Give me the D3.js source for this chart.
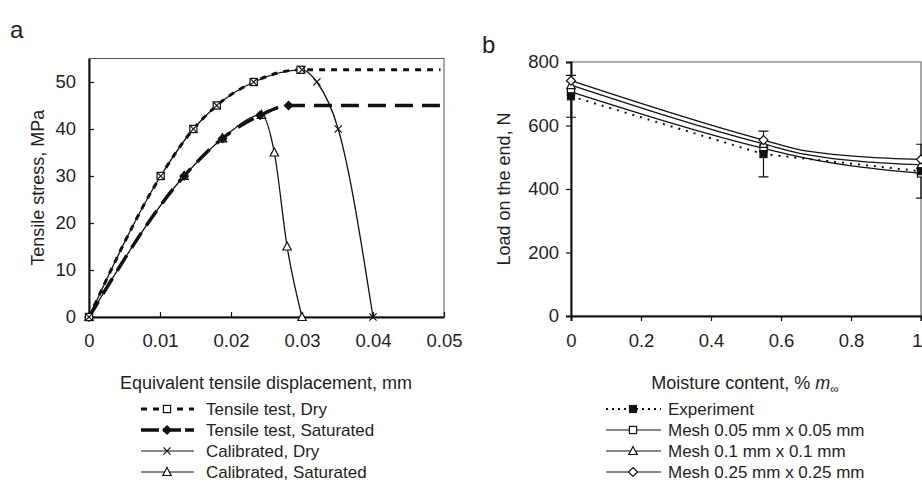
<!DOCTYPE html>
<html><head><meta charset="utf-8">
<script src="https://cdn.jsdelivr.net/npm/d3@7"></script>
<style>body{margin:0;background:#fff} svg{font-family:"Liberation Sans",Arial,sans-serif}</style>
</head><body><svg id="c" width="922" height="504"></svg>
<script>
// ---------- data: panel a ----------
const testDryX = [0, 0.0101, 0.0147, 0.0180, 0.0232, 0.0298];
const testDryY = [0, 30, 40, 45, 50, 52.6];
const testSatX = [0, 0.0134, 0.0188, 0.0241, 0.0281];
const testSatY = [0, 30, 38, 42.9, 45];
const plateauEndX = 0.0503;
const calDryX = [0, 0.0101, 0.0147, 0.0180, 0.0232, 0.0300, 0.0321, 0.0351, 0.0400];
const calDryY = [0, 30, 40, 45, 50, 52.6, 50, 40, 0];
const calSatX = [0, 0.0134, 0.0188, 0.0243, 0.0261, 0.0279, 0.0300];
const calSatY = [0, 30, 38, 43, 35, 15, 0];
const xTicksA = [0, 0.01, 0.02, 0.03, 0.04, 0.05];
const yTicksA = [0, 10, 20, 30, 40, 50];
const legendA = ["Tensile test, Dry", "Tensile test, Saturated", "Calibrated, Dry", "Calibrated, Saturated"];

// ---------- data: panel b ----------
const moisture = [0, 0.55, 1];
const expLoad = [692, 510, 456];
const expErr = [66, 72, 85];
const meshX = [0, 0.55, 0.67, 1];
const mesh005 = [706, 528, 497, 449];
const mesh01 = [727, 542, 509, 476];
const mesh025 = [741, 554, 520, 493];
const xTicksB = [0, 0.2, 0.4, 0.6, 0.8, 1];
const yTicksB = [0, 200, 400, 600, 800];
const legendB = ["Experiment", "Mesh 0.05 mm x 0.05 mm", "Mesh 0.1 mm x 0.1 mm", "Mesh 0.25 mm x 0.25 mm"];

const svg = d3.select("#c");
const TXT = "#231f20";
const FT = 18.5, FA = 18, FL = 17;
const zip = (xs, ys) => xs.map((x, i) => [x, ys[i]]);

function marker(g, type, x, y) {
  const s = 3.6;
  if (type === "square") {
    g.append("rect").attr("x", x - s).attr("y", y - s).attr("width", 2 * s).attr("height", 2 * s)
      .attr("fill", "#fff").attr("stroke", "#111").attr("stroke-width", 1.2);
  } else if (type === "fsquare") {
    g.append("rect").attr("x", x - s).attr("y", y - s).attr("width", 2 * s).attr("height", 2 * s)
      .attr("fill", "#111").attr("stroke", "#111").attr("stroke-width", 1);
  } else if (type === "cross") {
    g.append("path").attr("d", `M${x - s},${y - s}L${x + s},${y + s}M${x - s},${y + s}L${x + s},${y - s}`)
      .attr("stroke", "#111").attr("stroke-width", 1.2);
  } else if (type === "fdiamond") {
    g.append("path").attr("d", `M${x},${y - 5}L${x + 5},${y}L${x},${y + 5}L${x - 5},${y}Z`).attr("fill", "#111");
  } else if (type === "diamond") {
    g.append("path").attr("d", `M${x},${y - 4.5}L${x + 4.5},${y}L${x},${y + 4.5}L${x - 4.5},${y}Z`)
      .attr("fill", "#fff").attr("stroke", "#111").attr("stroke-width", 1.2);
  } else if (type === "triangle") {
    g.append("path").attr("d", `M${x},${y - 4.5}L${x + 4.2},${y + 3.5}L${x - 4.2},${y + 3.5}Z`)
      .attr("fill", "#fff").attr("stroke", "#111").attr("stroke-width", 1.2);
  }
}
function styleAxis(a) {
  a.select(".domain").attr("stroke", "#111").attr("stroke-width", 2);
  a.selectAll(".tick line").attr("stroke", "#111").attr("stroke-width", 1.2);
  a.selectAll(".tick text").attr("font-size", FT).attr("fill", TXT).attr("font-family", "Liberation Sans, Arial, sans-serif");
}

// ================= Panel a =================
const xA = d3.scaleLinear().domain([0, 0.05]).range([89, 444]);
const yA = d3.scaleLinear().domain([0, 55]).range([317, 58.5]);

svg.append("text").attr("x", 10).attr("y", 38).attr("font-size", 24).attr("fill", TXT).text("a");

const gA = svg.append("g");
gA.append("rect").attr("x", xA(0)).attr("y", yA(55)).attr("width", xA(0.05) - xA(0)).attr("height", yA(0) - yA(55))
  .attr("fill", "none").attr("stroke", "#555").attr("stroke-width", 1);

const axA = gA.append("g").attr("transform", `translate(0,${yA(0)})`)
  .call(d3.axisBottom(xA).tickValues(xTicksA).tickSizeInner(-5).tickSizeOuter(0).tickPadding(17)
    .tickFormat(d => d === 0 ? "0" : d3.format(".2f")(d)));
const ayA = gA.append("g").attr("transform", `translate(${xA(0)},0)`)
  .call(d3.axisLeft(yA).tickValues(yTicksA).tickSizeInner(-5).tickSizeOuter(0).tickPadding(13));
styleAxis(axA); styleAxis(ayA);

const lineA = d3.line().x(d => xA(d[0])).y(d => yA(d[1])).curve(d3.curveMonotoneX);

gA.append("path").attr("d", lineA(zip(calDryX, calDryY))).attr("fill", "none").attr("stroke", "#111").attr("stroke-width", 1.3);
gA.append("path").attr("d", lineA(zip(calSatX, calSatY))).attr("fill", "none").attr("stroke", "#111").attr("stroke-width", 1.3);
const dryPts = zip(testDryX, testDryY).concat([[plateauEndX - 0.0008, testDryY[testDryY.length - 1]]]);
const satPts = zip(testSatX, testSatY).concat([[plateauEndX + 0.0004, testSatY[testSatY.length - 1]]]);
gA.append("path").attr("d", lineA(dryPts)).attr("fill", "none").attr("stroke", "#111").attr("stroke-width", 3).attr("stroke-dasharray", "6,6");
gA.append("path").attr("d", lineA(satPts)).attr("fill", "none").attr("stroke", "#111").attr("stroke-width", 3.5).attr("stroke-dasharray", "18,9");

calSatX.forEach((x, i) => marker(gA, "triangle", xA(x), yA(calSatY[i])));
testSatX.forEach((x, i) => marker(gA, "fdiamond", xA(x), yA(testSatY[i])));
testDryX.forEach((x, i) => marker(gA, "square", xA(x), yA(testDryY[i])));
calDryX.forEach((x, i) => marker(gA, "cross", xA(x), yA(calDryY[i])));

svg.append("text").attr("transform", `translate(44,${(yA(0) + yA(55)) / 2}) rotate(-90)`).attr("text-anchor", "middle")
  .attr("font-size", FA).attr("fill", TXT).text("Tensile stress, MPa");
svg.append("text").attr("x", 266).attr("y", 389).attr("text-anchor", "middle")
  .attr("font-size", FA).attr("fill", TXT).text("Equivalent tensile displacement, mm");

// legend a
const legY = [409, 430, 451, 472];
const lgA = svg.append("g");
const lx0 = 141, lx1 = 194, lm = 167;
lgA.append("line").attr("x1", lx0).attr("x2", lx1).attr("y1", legY[0]).attr("y2", legY[0]).attr("stroke", "#111").attr("stroke-width", 3).attr("stroke-dasharray", "6,6");
marker(lgA, "square", lm, legY[0]);
lgA.append("line").attr("x1", lx0).attr("x2", lx1).attr("y1", legY[1]).attr("y2", legY[1]).attr("stroke", "#111").attr("stroke-width", 3.5).attr("stroke-dasharray", "18,4");
marker(lgA, "fdiamond", lm, legY[1]);
lgA.append("line").attr("x1", lx0).attr("x2", lx1).attr("y1", legY[2]).attr("y2", legY[2]).attr("stroke", "#111").attr("stroke-width", 1.2);
marker(lgA, "cross", lm, legY[2]);
lgA.append("line").attr("x1", lx0).attr("x2", lx1).attr("y1", legY[3]).attr("y2", legY[3]).attr("stroke", "#111").attr("stroke-width", 1.2);
marker(lgA, "triangle", lm, legY[3]);
legendA.forEach((t, i) => lgA.append("text").attr("x", 206).attr("y", legY[i] + 6).attr("font-size", FL).attr("fill", TXT).text(t));

// ================= Panel b =================
const xB = d3.scaleLinear().domain([0, 1]).range([571, 921]);
const yB = d3.scaleLinear().domain([0, 800]).range([316, 62]);

svg.append("text").attr("x", 482).attr("y", 53).attr("font-size", 24).attr("fill", TXT).text("b");

const gB = svg.append("g");
gB.append("rect").attr("x", xB(0)).attr("y", yB(800)).attr("width", xB(1) - xB(0)).attr("height", yB(0) - yB(800))
  .attr("fill", "none").attr("stroke", "#555").attr("stroke-width", 1);
const axB = gB.append("g").attr("transform", `translate(0,${yB(0)})`)
  .call(d3.axisBottom(xB).tickValues(xTicksB).tickSize(5).tickPadding(13).tickFormat(d3.format("~g")));
const ayB = gB.append("g").attr("transform", `translate(${xB(0)},0)`)
  .call(d3.axisLeft(yB).tickValues(yTicksB).tickSize(5).tickPadding(7));
styleAxis(axB); styleAxis(ayB);
axB.selectAll(".tick text").filter(d => d === 1).attr("text-anchor", "end").attr("dx", 1);

const lineB = d3.line().x(d => xB(d[0])).y(d => yB(d[1])).curve(d3.curveMonotoneX);
[mesh005, mesh01, mesh025].forEach(vals => {
  gB.append("path").attr("d", lineB(zip(meshX, vals))).attr("fill", "none").attr("stroke", "#111").attr("stroke-width", 1.3);
});
gB.append("path").attr("d", d3.line().x(d => xB(d[0])).y(d => yB(d[1]))(zip(moisture, expLoad))).attr("fill", "none").attr("stroke", "#111")
  .attr("stroke-width", 2).attr("stroke-dasharray", "2,6");
moisture.forEach((m, i) => {
  const x = xB(m), y1 = yB(expLoad[i] + expErr[i]), y2 = yB(expLoad[i] - expErr[i]);
  gB.append("path").attr("d", `M${x},${y1}V${y2}M${x - 5},${y1}H${x + 5}M${x - 5},${y2}H${x + 5}`)
    .attr("stroke", "#111").attr("stroke-width", 1.2).attr("fill", "none");
});
[[mesh005, "square"], [mesh01, "triangle"], [mesh025, "diamond"]].forEach(([vals, m]) => {
  meshX.forEach((x, i) => { if (moisture.includes(x)) marker(gB, m, xB(x), yB(vals[i])); });
});
moisture.forEach((m, i) => marker(gB, "fsquare", xB(m), yB(expLoad[i])));

svg.append("text").attr("transform", `translate(510,${(yB(0) + yB(800)) / 2}) rotate(-90)`).attr("text-anchor", "middle")
  .attr("font-size", FA).attr("fill", TXT).text("Load on the end, N");
const xt = svg.append("text").attr("x", 745).attr("y", 389).attr("text-anchor", "middle").attr("font-size", FA).attr("fill", TXT);
xt.append("tspan").text("Moisture content, % ");
xt.append("tspan").attr("font-style", "italic").text("m");
xt.append("tspan").attr("font-size", 12).attr("dy", 4).text("∞");

// legend b
const lgB = svg.append("g");
const bx0 = 606, bx1 = 661, bm = 633;
lgB.append("line").attr("x1", bx0).attr("x2", bx1).attr("y1", legY[0]).attr("y2", legY[0]).attr("stroke", "#111").attr("stroke-width", 2).attr("stroke-dasharray", "2,4");
marker(lgB, "fsquare", bm, legY[0]);
["square", "triangle", "diamond"].forEach((m, i) => {
  lgB.append("line").attr("x1", bx0).attr("x2", bx1).attr("y1", legY[i + 1]).attr("y2", legY[i + 1]).attr("stroke", "#111").attr("stroke-width", 1.2);
  marker(lgB, m, bm, legY[i + 1]);
});
legendB.forEach((t, i) => lgB.append("text").attr("x", 668).attr("y", legY[i] + 6).attr("font-size", FL).attr("fill", TXT).text(t));
</script></body></html>
